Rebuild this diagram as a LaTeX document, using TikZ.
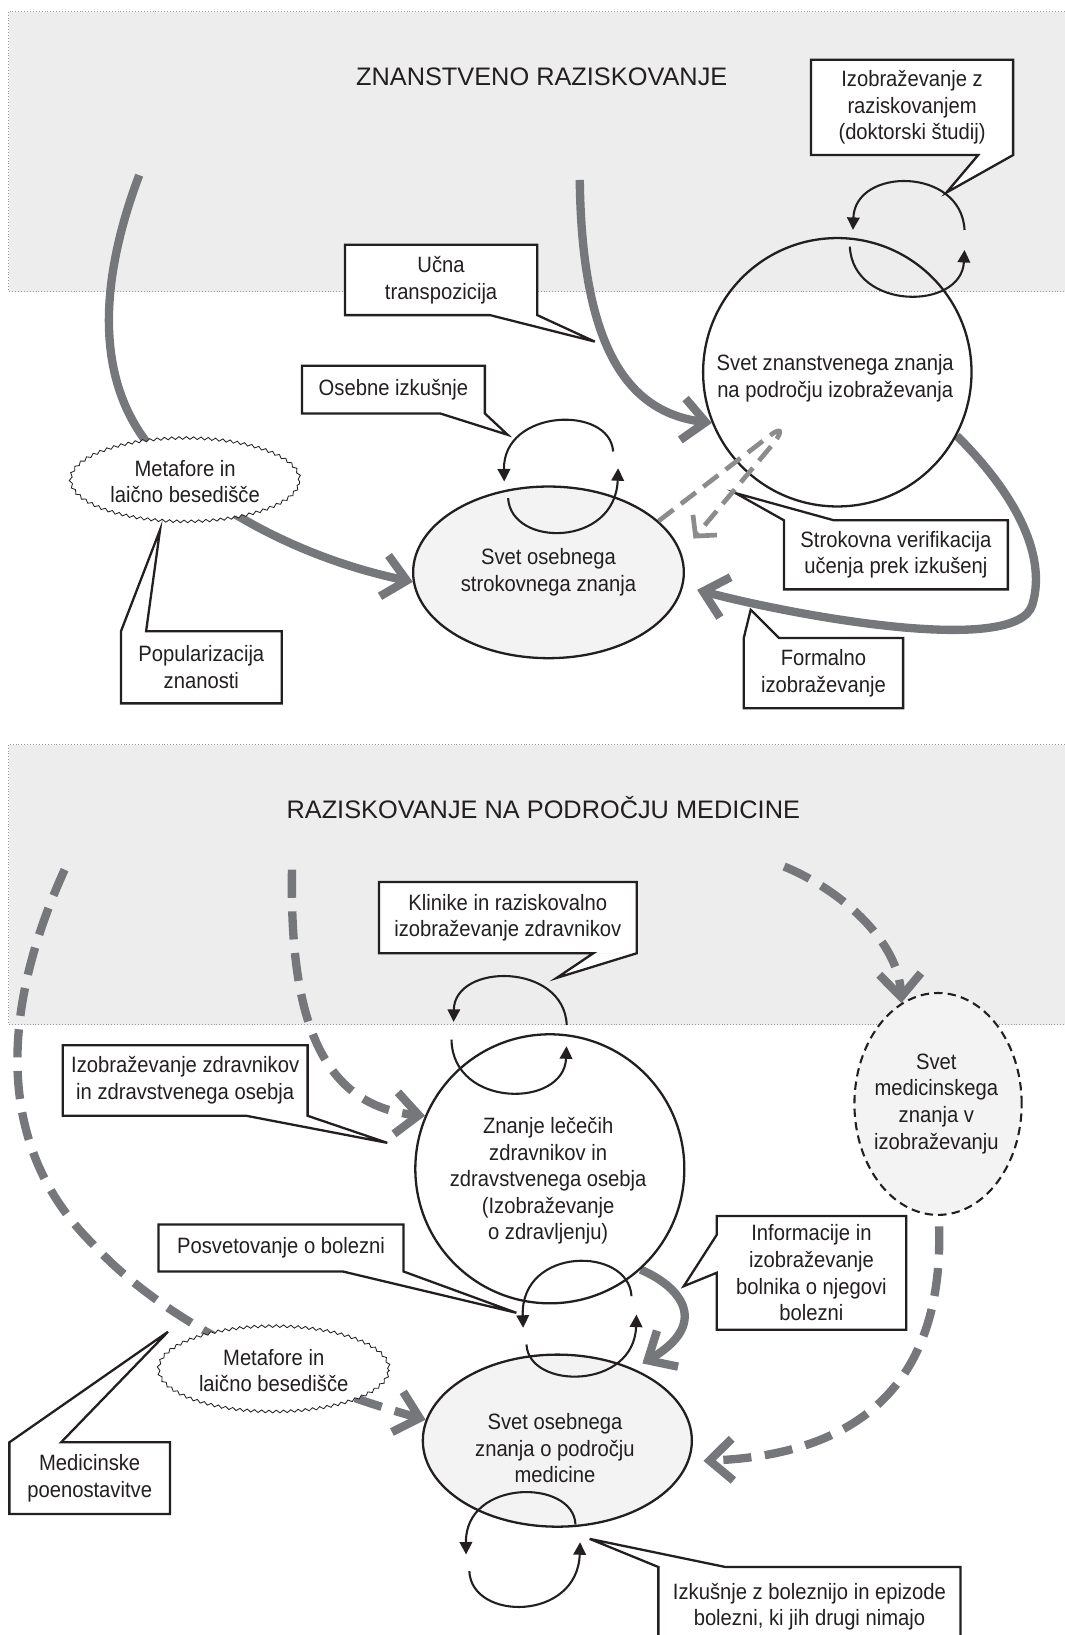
\documentclass[tikz,border=0pt]{standalone}
\usepackage{fontspec}
\setmainfont{Liberation Sans}[FakeStretch=0.91]
\newfontfamily\titlefamily{Liberation Sans}
\usetikzlibrary{arrows.meta,shapes.geometric,decorations.pathmorphing,calc}
\pgfdeclarelayer{bg}
\pgfdeclarelayer{flow}
\pgfsetlayers{bg,flow,main}
\definecolor{boxgray}{HTML}{EDEDED}
\definecolor{nodegray}{HTML}{F3F3F3}
\definecolor{arrowgray}{HTML}{76777A}
\definecolor{lightarrow}{HTML}{8C8C8C}
\definecolor{ink}{HTML}{231F20}
\definecolor{framegray}{HTML}{9A9A9A}
\newcommand\fs{\fontsize{21.3}{25.5}\selectfont}
\newcommand\fsT{\titlefamily\fontsize{24.3}{29}\selectfont}
\begin{document}
\begin{tikzpicture}[x=1pt,y=-1pt,
  every node/.style={text=ink},
  region/.style={fill=boxgray, draw=framegray, line width=0.8pt, dotted},
  lbl/.style={align=center, font=\fs, inner sep=0pt, fill=white},
  calloutline/.style={draw=ink, line width=2.2pt, line join=miter},
  world/.style={draw=ink, line width=2.2pt, align=center, font=\fs, inner sep=0pt},
  txt/.style={align=center, font=\fs, inner sep=0pt},
  wavy/.style={draw=ink, line width=0.8pt, decorate, decoration={snake, amplitude=1.3pt, segment length=7pt}, fill=white, ellipse, align=center, font=\fs, inner sep=0pt},
  loopline/.style={draw=ink, line width=2pt, -{Triangle[length=12pt,width=12pt]}},
  bigarrow/.style={draw=arrowgray, line width=8pt, -{Straight Barb[length=22pt,width=40pt]}},
  bigdash/.style={bigarrow, dash pattern=on 27pt off 13pt},
  thindash/.style={draw=lightarrow, line width=4.5pt, dash pattern=on 18pt off 9pt, -{Straight Barb[length=14pt,width=30pt]}},
]
\useasboundingbox (0,0) rectangle (1021,1568);
\clip (0,0) rectangle (1021,1568);

% ---------- regions ----------
\begin{pgfonlayer}{bg}
\path[region] (8.5,11.2) rectangle (1040,279.6);
\path[region] (8.5,714.2) rectangle (1040,982.7);
\end{pgfonlayer}
\node[font=\fsT] (t1) at (519.5,73.5) {ZNANSTVENO RAZISKOVANJE};
\node[font=\fsT] (t2) at (521,774.9) {RAZISKOVANJE NA PODROČJU MEDICINE};

% ---------- worlds ----------
\node[world, circle, minimum size=257.4pt] (sci) at (803,357) {};
\node[txt] (scit) at (801,362.5) {Svet znanstvenega znanja\\na področju izobraževanja};
\node[world, ellipse, fill=nodegray, minimum width=259.6pt, minimum height=164.6pt] (pers) at (526,548.9) {Svet osebnega\\strokovnega znanja};
\node[wavy, minimum width=219.6pt, minimum height=80pt] (met1) at (177.5,461.8) {Metafore in\\laično besedišče};

\node[world, circle, minimum size=258pt] (zn) at (527.3,1120.9) {};
\node[txt] (znt) at (525.7,1132.5) {Znanje lečečih\\zdravnikov in\\zdravstvenega osebja\\(Izobraževanje\\o zdravljenju)};
\node[world, ellipse, fill=nodegray, minimum width=258pt, minimum height=165pt] (persm) at (534.5,1381.6) {};
\node[txt] (persmt) at (532.2,1389) {Svet osebnega\\znanja o področju\\medicine};
\node[wavy, minimum width=221pt, minimum height=82pt] (met2) at (262.5,1314.5) {Metafore in\\laično besedišče};
\node[world, ellipse, fill=nodegray, line width=2pt, dash pattern=on 8pt off 5pt, minimum width=160.4pt, minimum height=212.8pt] (medw) at (899.6,1058.7) {};
\node[txt] (medwt) at (898,1058.5) {Svet\\medicinskega\\znanja v\\izobraževanju};

% ---------- flows (under the shapes) ----------
\coordinate (la-s) at (133.5,168);
\coordinate (ua-s) at (556,172.6);
\coordinate (id-s) at (280,834);
\coordinate (od-s) at (62,834);
\coordinate (rd-s) at (752,831);
\begin{pgfonlayer}{flow}
\draw[bigarrow] (la-s) .. controls (95,270) and (85,380) .. (165,450) .. controls (230,505) and (310,540) .. (pers.184);
\draw[bigarrow] (ua-s) .. controls (558,330) and (600,395) .. (sci.202);
\draw[bigarrow] (sci.332) .. controls (970,470) and (1005,530) .. (990,580) .. controls (975,630) and (760,590) .. ($(pers.353)+(14,1)$);
\draw[bigarrow] (zn.312) .. controls (655,1235) and (680,1270) .. ($(persm.42)+(6,-6)$);
\draw[bigdash] (id-s) .. controls (278,960) and (300,1060) .. (zn.157);
\draw[bigdash] (od-s) .. controls (0,970) and (-5,1100) .. (89,1193) .. controls (150,1260) and (260,1320) .. (persm.171);
\draw[bigdash] (rd-s) .. controls (810,855) and (862,905) .. (medw.110);
\draw[bigdash] ($(medw.south)+(1,10)$) .. controls (905,1330) and (820,1395) .. ($(persm.352)+(13,1.5)$);
\end{pgfonlayer}

% ---------- callouts ----------
\node[lbl, minimum width=193.4pt, minimum height=91pt] (izr) at (874.7,103) {Izobraževanje z\\raziskovanjem\\(doktorski študij)};
\coordinate (izr-tip) at (907.6,184.7);
\fill[white] (izr.south east) -- (izr-tip) -- ($(izr.south east)+(-33.5,0)$) -- cycle;
\draw[calloutline] (izr.north west) -- (izr.north east) -- (izr.south east) -- (izr-tip) -- ($(izr.south east)+(-33.5,0)$) -- (izr.south west) -- cycle;

\node[lbl, minimum width=184pt, minimum height=67pt] (ucna) at (423,268.5) {Učna\\transpozicija};
\coordinate (ucna-tip) at (570.4,327.6);
\fill[white] (ucna.south east) -- (ucna-tip) -- ($(ucna.south east)+(-45.3,0)$) -- cycle;
\draw[calloutline] (ucna.north west) -- (ucna.north east) -- (ucna.south east) -- (ucna-tip) -- ($(ucna.south east)+(-45.3,0)$) -- (ucna.south west) -- cycle;

\node[lbl, minimum width=175pt, minimum height=45.4pt] (oseb) at (377.3,373.6) {Osebne izkušnje};
\coordinate (oseb-tip) at (486.9,417);
\fill[white] (oseb.south east) -- (oseb-tip) -- ($(oseb.south east)+(-42.9,0)$) -- cycle;
\draw[calloutline] (oseb.north west) -- (oseb.north east) -- (oseb.south east) -- (oseb-tip) -- ($(oseb.south east)+(-42.9,0)$) -- (oseb.south west) -- cycle;

\node[lbl, minimum width=153.8pt, minimum height=68.7pt] (pop) at (193.1,640) {Popularizacija\\znanosti};
\coordinate (pop-tip) at (153.5,508.1);
\fill[white] (pop.north west) -- (pop-tip) -- ($(pop.north west)+(24.1,0)$) -- cycle;
\draw[calloutline] (pop.north west) -- (pop-tip) -- ($(pop.north west)+(24.1,0)$) -- (pop.north east) -- (pop.south east) -- (pop.south west) -- cycle;

\node[lbl, minimum width=214.3pt, minimum height=65.8pt] (strok) at (859.2,532.1) {Strokovna verifikacija\\učenja prek izkušenj};
\coordinate (strok-tip) at (705.4,472.9);
\fill[white] (strok.north west) -- (strok-tip) -- ($(strok.north west)+(48,0)$) -- cycle;
\draw[calloutline] (strok.north west) -- (strok-tip) -- ($(strok.north west)+(48,0)$) -- (strok.north east) -- (strok.south east) -- (strok.south west) -- cycle;

\node[lbl, minimum width=152.4pt, minimum height=67pt] (form) at (789.7,645.5) {Formalno\\izobraževanje};
\coordinate (form-tip) at (719.9,584.8);
\fill[white] (form.north west) -- (form-tip) -- ($(form.north west)+(33.7,0)$) -- cycle;
\draw[calloutline] (form.north west) -- (form-tip) -- ($(form.north west)+(33.7,0)$) -- (form.north east) -- (form.south east) -- (form.south west) -- cycle;

\node[lbl, minimum width=246.8pt, minimum height=68pt] (klin) at (487,880) {Klinike in raziskovalno\\izobraževanje zdravnikov};
\coordinate (klin-tip) at (533.7,937.9);
\fill[white] (klin.south east) -- (klin-tip) -- ($(klin.south east)+(-41.6,0)$) -- cycle;
\draw[calloutline] (klin.north west) -- (klin.north east) -- (klin.south east) -- (klin-tip) -- ($(klin.south east)+(-41.6,0)$) -- (klin.south west) -- cycle;

\node[lbl, minimum width=234.4pt, minimum height=67.3pt] (izz) at (177.6,1036.2) {Izobraževanje zdravnikov\\in zdravstvenega osebja};
\coordinate (izz-tip) at (371.4,1096);
\fill[white] (izz.south east) -- (izz-tip) -- ($(izz.south east)+(-58.8,0)$) -- cycle;
\draw[calloutline] (izz.north west) -- (izz.north east) -- (izz.south east) -- (izz-tip) -- ($(izz.south east)+(-58.8,0)$) -- (izz.south west) -- cycle;

\node[lbl, minimum width=234.4pt, minimum height=44.7pt] (posv) at (269.5,1196.8) {Posvetovanje o bolezni};
\coordinate (posv-tip) at (495.2,1259);
\fill[white] (posv.south east) -- (posv-tip) -- ($(posv.south east)+(-58.2,0)$) -- cycle;
\draw[calloutline] (posv.north west) -- (posv.north east) -- (posv.south east) -- (posv-tip) -- ($(posv.south east)+(-58.2,0)$) -- (posv.south west) -- cycle;

\node[lbl, minimum width=181.3pt, minimum height=108.6pt] (inf) at (778.2,1220.7) {Informacije in\\izobraževanje\\bolnika o njegovi\\bolezni};
\coordinate (inf-tip) at (655.7,1233.5);
\fill[white] ($(inf.north west)+(0,54.4)$) -- (inf-tip) -- ($(inf.north west)+(0,18)$) -- cycle;
\draw[calloutline] (inf.north west) -- (inf.north east) -- (inf.south east) -- (inf.south west) -- ($(inf.north west)+(0,54.4)$) -- (inf-tip) -- ($(inf.north west)+(0,18)$) -- cycle;

\node[lbl, minimum width=153.6pt, minimum height=68.4pt] (medp) at (86,1417.6) {Medicinske\\poenostavitve};
\coordinate (medp-tip) at (161.1,1277.2);
\fill[white] (medp.north west) -- (medp-tip) -- ($(medp.north west)+(49.6,0)$) -- cycle;
\draw[calloutline] (medp.north west) -- (medp-tip) -- ($(medp.north west)+(49.6,0)$) -- (medp.north east) -- (medp.south east) -- (medp.south west) -- cycle;

\node[lbl, minimum width=289.4pt, minimum height=76pt] (izk) at (776.3,1541) {Izkušnje z boleznijo in epizode\\bolezni, ki jih drugi nimajo};
\coordinate (izk-tip) at (565.5,1475.8);
\fill[white] (izk.north west) -- (izk-tip) -- ($(izk.north west)+(64.4,0)$) -- cycle;
\draw[calloutline] (izk.north west) -- (izk-tip) -- ($(izk.north west)+(64.4,0)$) -- (izk.north east) -- (izk.south east) -- (izk.south west) -- cycle;

% ---------- thin dashed feedback ----------
\draw[thindash] (pers.25) -- (738,418) .. controls (748,410) and (752,412) .. (742,425) -- ($(pers.13)+(16,-4)$);

% ---------- loops ----------
\draw[loopline] (925,220.5) .. controls (922,160) and (820,160) .. (818,220.5);
\draw[loopline] (815,236.5) .. controls (818,298) and (922,298) .. (925,239.7);
\draw[loopline] (588,433) .. controls (585,388) and (482,392) .. (483.6,461.8);
\draw[loopline] (487.3,477.7) .. controls (490,525) and (590,525) .. (592.8,449);
\draw[loopline] (543.5,983) .. controls (541,923) and (436,923) .. (435,980);
\draw[loopline] (433,997) .. controls (434,1063) and (541,1063) .. (543.3,1003.4);
\draw[loopline] (605.6,1243) .. controls (603,1195) and (499,1195) .. (501.7,1273.4);
\draw[loopline] (504.9,1289.4) .. controls (507,1333) and (608,1333) .. (610.4,1260.7);
\draw[loopline] (551.9,1462) .. controls (550,1418) and (446,1418) .. (447,1490.8);
\draw[loopline] (450.1,1506.7) .. controls (452,1555) and (554,1555) .. (556.3,1479);
\end{tikzpicture}
\end{document}
